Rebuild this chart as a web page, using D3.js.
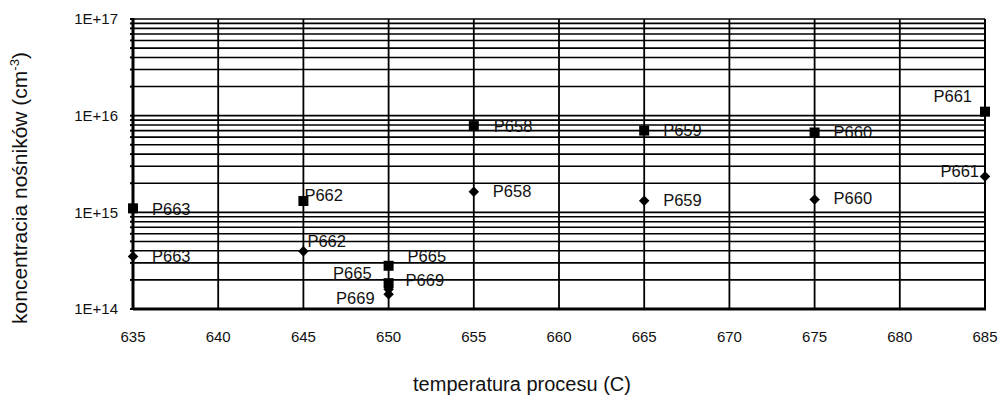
<!DOCTYPE html>
<html lang="pl">
<head>
<meta charset="utf-8">
<title>koncentracja nosnikow</title>
<script src="https://d3js.org/d3.v7.min.js"></script>
<style>
  body { margin: 0; background: #fff; }
  text { font-family: "Liberation Sans", Arial, sans-serif; fill: #111; }
</style>
</head>
<body>
<script>
// temperatures of the process (C)
var temps = [635, 645, 650, 650, 655, 665, 675, 685];
// sample names
var names = ["P663", "P662", "P665", "P669", "P658", "P659", "P660", "P661"];
// concentration, square markers (cm^-3)
var squareVals = [1.1e15, 1.31e15, 2.8e14, 1.85e14, 7.8e15, 7.0e15, 6.7e15, 1.1e16];
// concentration, diamond markers (cm^-3)
var diamondVals = [3.5e14, 3.95e14, 1.6e14, 1.42e14, 1.63e15, 1.32e15, 1.36e15, 2.35e15];
var xTicks = [635, 640, 645, 650, 655, 660, 665, 670, 675, 680, 685];
var yTicks = [1e14, 1e15, 1e16, 1e17];
var yTickLabels = ["1E+14", "1E+15", "1E+16", "1E+17"];
// where the labels sit next to their marker: [dx, dy, anchor]
var squareLabelPos = [[19, 1, "start"], [1, -6, "start"], [19, -10, "start"], [17, -3, "start"],
                      [20, 0, "start"], [19, 0, "start"], [19, 0, "start"], [-13, -15, "end"]];
var diamondLabelPos = [[19, 0, "start"], [4, -10, "start"], [-17, -16, "end"], [-14, 4, "end"],
                       [19, -1, "start"], [19, 0, "start"], [19, -1, "start"], [-6, -5, "end"]];

var W = 999, H = 401;
var mLeft = 133, mRight = 985, mTop = 19, mBottom = 309;

var svg = d3.select("body").append("svg")
  .attr("width", W).attr("height", H);

var x = d3.scaleLinear().domain([635, 685]).range([mLeft, mRight]);
var y = d3.scaleLog().domain([1e14, 1e17]).range([mBottom, mTop]);

// horizontal grid: every 1..9 of each decade
var minor = [];
for (var e = 14; e < 17; e++) {
  for (var m = 1; m < 10; m++) minor.push(m * Math.pow(10, e));
}
minor.push(1e17);

svg.append("g")
  .selectAll("line")
  .data(minor)
  .enter().append("line")
  .attr("x1", mLeft).attr("x2", mRight)
  .attr("y1", function(d) { return y(d); })
  .attr("y2", function(d) { return y(d); })
  .attr("stroke", "#000").attr("stroke-width", 1.6);

// small ticks left of the y axis
svg.append("g")
  .selectAll("line")
  .data(minor)
  .enter().append("line")
  .attr("x1", mLeft - 3).attr("x2", mLeft)
  .attr("y1", function(d) { return y(d); })
  .attr("y2", function(d) { return y(d); })
  .attr("stroke", "#000").attr("stroke-width", 2);

// vertical grid
svg.append("g")
  .selectAll("line")
  .data(xTicks)
  .enter().append("line")
  .attr("x1", function(d) { return x(d); })
  .attr("x2", function(d) { return x(d); })
  .attr("y1", mTop).attr("y2", mBottom)
  .attr("stroke", "#000").attr("stroke-width", 1.8);

// frame, left and bottom heavier
svg.append("line").attr("x1", mLeft).attr("x2", mLeft).attr("y1", mTop - 1).attr("y2", mBottom + 1)
  .attr("stroke", "#000").attr("stroke-width", 3);
svg.append("line").attr("x1", mLeft).attr("x2", mRight + 1).attr("y1", mBottom).attr("y2", mBottom)
  .attr("stroke", "#000").attr("stroke-width", 3);
svg.append("line").attr("x1", mRight).attr("x2", mRight).attr("y1", mTop).attr("y2", mBottom)
  .attr("stroke", "#000").attr("stroke-width", 2);

// x tick labels
svg.append("g")
  .selectAll("text")
  .data(xTicks)
  .enter().append("text")
  .attr("x", function(d) { return x(d); })
  .attr("y", mBottom + 33)
  .attr("text-anchor", "middle")
  .style("font-size", "15px")
  .text(function(d) { return d; });

// y tick labels
svg.append("g")
  .selectAll("text")
  .data(yTicks)
  .enter().append("text")
  .attr("x", mLeft - 15)
  .attr("y", function(d) { return y(d); })
  .attr("dy", "0.35em")
  .attr("text-anchor", "end")
  .style("font-size", "15px")
  .text(function(d, i) { return yTickLabels[i]; });

// axis titles
svg.append("text")
  .attr("x", 522)
  .attr("y", 391)
  .attr("text-anchor", "middle")
  .style("font-size", "20px")
  .text("temperatura procesu (C)");

var yt = svg.append("text")
  .attr("transform", "translate(27,188) rotate(-90)")
  .attr("text-anchor", "middle")
  .style("font-size", "21px");
yt.append("tspan").text("koncentracia nośników (cm");
yt.append("tspan").attr("dy", -8).style("font-size", "13px").text("-3");
yt.append("tspan").attr("dy", 8).text(")");

// square markers
var sq = 10;
svg.append("g")
  .selectAll("rect")
  .data(squareVals)
  .enter().append("rect")
  .attr("x", function(d, i) { return x(temps[i]) - sq / 2; })
  .attr("y", function(d) { return y(d) - sq / 2; })
  .attr("width", sq).attr("height", sq)
  .attr("fill", "#000");

// diamond markers
var diamond = d3.symbol().type(d3.symbolSquare).size(55);
svg.append("g")
  .selectAll("path")
  .data(diamondVals)
  .enter().append("path")
  .attr("d", diamond)
  .attr("transform", function(d, i) { return "translate(" + x(temps[i]) + "," + y(d) + ") rotate(45)"; })
  .attr("fill", "#000");

// point labels
function labels(vals, pos) {
  svg.append("g")
    .selectAll("text")
    .data(vals)
    .enter().append("text")
    .attr("x", function(d, i) { return x(temps[i]) + pos[i][0]; })
    .attr("y", function(d, i) { return y(d) + pos[i][1]; })
    .attr("dy", "0.35em")
    .attr("text-anchor", function(d, i) { return pos[i][2]; })
    .style("font-size", "16.5px")
    .text(function(d, i) { return names[i]; });
}
labels(squareVals, squareLabelPos);
labels(diamondVals, diamondLabelPos);
</script>
</body>
</html>
